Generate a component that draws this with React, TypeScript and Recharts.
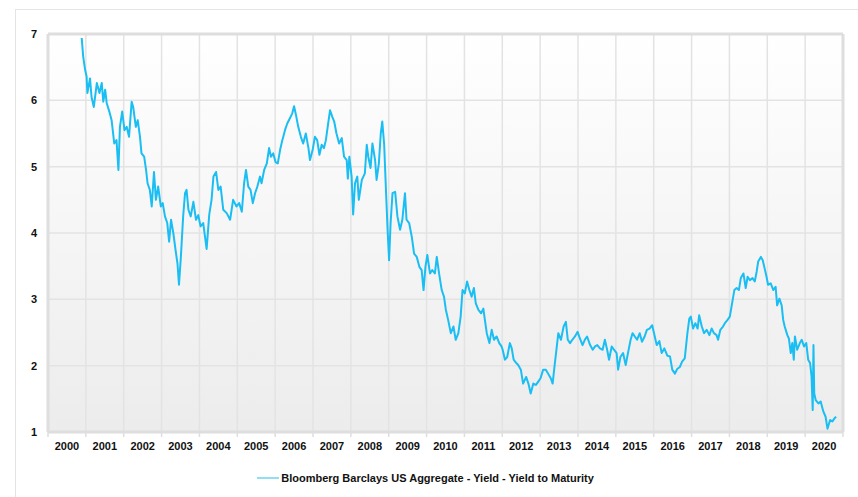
import React from "react";
import {
  LineChart,
  Line,
  XAxis,
  YAxis,
  CartesianGrid,
  Legend,
  ReferenceLine,
} from "recharts";

// decimal year of each reading
const dates = [
  2000.89, 2000.93, 2000.98, 2001.02, 2001.04, 2001.11, 2001.15, 2001.21, 2001.29, 2001.36,
  2001.42, 2001.46, 2001.51, 2001.55, 2001.62, 2001.68, 2001.75, 2001.81, 2001.86, 2001.9,
  2001.96, 2002.02, 2002.08, 2002.14, 2002.21, 2002.25, 2002.32, 2002.37, 2002.43, 2002.47,
  2002.54, 2002.59, 2002.63, 2002.69, 2002.74, 2002.8, 2002.85, 2002.91, 2002.98, 2003.03,
  2003.09, 2003.15, 2003.2, 2003.25, 2003.31, 2003.37, 2003.42, 2003.46, 2003.51, 2003.57,
  2003.62, 2003.66, 2003.71, 2003.77, 2003.84, 2003.91, 2003.97, 2004.03, 2004.1, 2004.19,
  2004.26, 2004.32, 2004.37, 2004.44, 2004.5, 2004.56, 2004.63, 2004.72, 2004.81, 2004.89,
  2004.98, 2005.05, 2005.12, 2005.18, 2005.23, 2005.29, 2005.35, 2005.41, 2005.47, 2005.53,
  2005.6, 2005.64, 2005.71, 2005.78, 2005.84, 2005.89, 2005.95, 2006.01, 2006.07, 2006.13,
  2006.19, 2006.26, 2006.32, 2006.39, 2006.45, 2006.5, 2006.55, 2006.61, 2006.68, 2006.74,
  2006.81, 2006.88, 2006.92, 2006.99, 2007.05, 2007.11, 2007.17, 2007.23, 2007.29, 2007.34,
  2007.4, 2007.45, 2007.51, 2007.56, 2007.62, 2007.69, 2007.76, 2007.82, 2007.89, 2007.92,
  2007.96, 2008.02, 2008.06, 2008.11, 2008.17, 2008.21, 2008.29, 2008.37, 2008.42, 2008.46,
  2008.52, 2008.57, 2008.64, 2008.68, 2008.74, 2008.79, 2008.83, 2008.88, 2008.92, 2008.97,
  2009.01, 2009.05, 2009.1, 2009.17, 2009.23, 2009.3, 2009.36, 2009.43, 2009.47, 2009.54,
  2009.61, 2009.67, 2009.74, 2009.81, 2009.87, 2009.92, 2009.97, 2010.02, 2010.09, 2010.15,
  2010.22, 2010.27, 2010.33, 2010.4, 2010.46, 2010.51, 2010.57, 2010.64, 2010.71, 2010.77,
  2010.84, 2010.9, 2010.95, 2011.01, 2011.07, 2011.13, 2011.19, 2011.25, 2011.3, 2011.37,
  2011.44, 2011.5, 2011.54, 2011.59, 2011.66, 2011.72, 2011.78, 2011.85, 2011.92, 2011.98,
  2012.01, 2012.07, 2012.13, 2012.2, 2012.25, 2012.3, 2012.37, 2012.42, 2012.49, 2012.55,
  2012.63, 2012.69, 2012.75, 2012.82, 2012.89, 2012.95, 2013.01, 2013.08, 2013.15, 2013.21,
  2013.28, 2013.33, 2013.37, 2013.42, 2013.48, 2013.55, 2013.62, 2013.68, 2013.73, 2013.79,
  2013.85, 2013.92, 2013.99, 2014.05, 2014.12, 2014.18, 2014.24, 2014.32, 2014.39, 2014.45,
  2014.51, 2014.58, 2014.65, 2014.71, 2014.77, 2014.82, 2014.89, 2014.95, 2015.02, 2015.06,
  2015.12, 2015.19, 2015.26, 2015.32, 2015.39, 2015.44, 2015.5, 2015.56, 2015.63, 2015.69,
  2015.76, 2015.82, 2015.89, 2015.96, 2016.02, 2016.08, 2016.15, 2016.21, 2016.28, 2016.36,
  2016.43, 2016.49, 2016.56, 2016.62, 2016.69, 2016.75, 2016.82, 2016.89, 2016.94, 2016.98,
  2017.04, 2017.1, 2017.16, 2017.2, 2017.27, 2017.33, 2017.4, 2017.47, 2017.53, 2017.59,
  2017.66, 2017.7, 2017.76, 2017.83, 2017.88, 2017.95, 2018.01, 2018.07, 2018.13, 2018.19,
  2018.25, 2018.3, 2018.37, 2018.43, 2018.48, 2018.54, 2018.61, 2018.67, 2018.72, 2018.76,
  2018.83, 2018.88, 2018.94, 2018.98, 2019.02, 2019.09, 2019.16, 2019.22, 2019.26, 2019.32,
  2019.38, 2019.42, 2019.46, 2019.53, 2019.57, 2019.62, 2019.66, 2019.7, 2019.73, 2019.79,
  2019.86, 2019.91, 2019.97, 2020.03, 2020.08, 2020.13, 2020.17, 2020.2, 2020.22, 2020.24,
  2020.28, 2020.35, 2020.41, 2020.48, 2020.54, 2020.59, 2020.66, 2020.72, 2020.78, 2020.82,
];

// yield to maturity, %
const yields = [
  6.94, 6.66, 6.46, 6.36, 6.11, 6.33, 6.05, 5.9, 6.26, 6.11,
  6.26, 5.98, 6.16, 5.96, 5.83, 5.7, 5.35, 5.4, 4.95, 5.6,
  5.83, 5.55, 5.6, 5.45, 5.98, 5.9, 5.6, 5.7, 5.45, 5.2,
  5.15, 4.95, 4.75, 4.65, 4.4, 4.92, 4.5, 4.7, 4.4, 4.45,
  4.25, 4.15, 3.87, 4.2, 4.0, 3.74, 3.54, 3.22, 3.64, 4.25,
  4.6, 4.65, 4.35, 4.25, 4.47, 4.2, 4.27, 4.1, 4.15, 3.76,
  4.28, 4.5, 4.85, 4.92, 4.65, 4.7, 4.35, 4.3, 4.2, 4.5,
  4.4, 4.45, 4.32, 4.75, 4.95, 4.7, 4.65, 4.45, 4.6, 4.7,
  4.85, 4.75, 4.95, 5.05, 5.28, 5.15, 5.2, 5.07, 5.05, 5.25,
  5.4, 5.55, 5.65, 5.73, 5.8, 5.91, 5.78, 5.6, 5.45, 5.35,
  5.5, 5.28, 5.1, 5.25, 5.45, 5.4, 5.18, 5.33, 5.28, 5.4,
  5.65, 5.85, 5.75, 5.68, 5.5, 5.35, 5.43, 5.15, 5.1, 4.82,
  5.15, 4.85, 4.28, 4.75, 4.85, 4.5, 4.8, 4.9, 5.33, 5.15,
  4.98, 5.35, 5.1, 4.8, 5.05, 5.5, 5.68, 5.33, 4.75, 4.05,
  3.59, 4.15, 4.6, 4.62, 4.25, 4.05, 4.2, 4.6, 4.2, 4.15,
  3.94, 3.69, 3.64, 3.49, 3.44, 3.14, 3.49, 3.67, 3.39, 3.44,
  3.39, 3.64, 3.39, 3.14, 3.04, 2.84, 2.69, 2.49, 2.59, 2.39,
  2.49, 2.74, 3.14, 3.09, 3.27, 3.14, 3.04, 3.17, 2.94, 2.84,
  2.79, 2.86, 2.69, 2.49, 2.34, 2.54, 2.39, 2.44, 2.34, 2.29,
  2.24, 2.09, 2.13, 2.34, 2.26, 2.09, 2.04, 2.01, 1.94, 1.73,
  1.83, 1.73, 1.58, 1.73, 1.71, 1.76, 1.81, 1.94, 1.94, 1.88,
  1.81, 1.73, 1.94, 2.19, 2.49, 2.39, 2.59, 2.66, 2.39, 2.34,
  2.39, 2.44, 2.51, 2.41, 2.31, 2.39, 2.44, 2.31, 2.24, 2.29,
  2.31, 2.26, 2.24, 2.39, 2.24, 2.09, 2.29, 2.24, 2.19, 1.94,
  2.13, 2.19, 2.01, 2.19, 2.39, 2.49, 2.44, 2.39, 2.49, 2.36,
  2.44, 2.54, 2.56, 2.61, 2.46, 2.31, 2.37, 2.19, 2.26, 2.15,
  2.14, 1.94, 1.88, 1.95, 1.98, 2.06, 2.11, 2.49, 2.71, 2.74,
  2.56, 2.64, 2.56, 2.76, 2.59, 2.49, 2.54, 2.46, 2.56, 2.49,
  2.46, 2.39, 2.54, 2.59, 2.64, 2.69, 2.74, 2.94, 3.14, 3.17,
  3.14, 3.32, 3.39, 3.17, 3.34, 3.29, 3.32, 3.27, 3.42, 3.57,
  3.64, 3.59, 3.44, 3.34, 3.22, 3.24, 3.14, 3.19, 2.91, 3.01,
  2.91, 2.69, 2.59, 2.46, 2.41, 2.19, 2.34, 2.09, 2.44, 2.24,
  2.34, 2.39, 2.29, 2.34, 2.09, 2.04, 1.83, 1.33, 2.31, 1.58,
  1.48, 1.43, 1.46, 1.31, 1.23, 1.05, 1.18, 1.16, 1.21, 1.23,
];

const yearTicks = [
  2000, 2001, 2002, 2003, 2004, 2005, 2006, 2007, 2008, 2009, 2010,
  2011, 2012, 2013, 2014, 2015, 2016, 2017, 2018, 2019, 2020, 2021,
];
const yTicks = [1, 2, 3, 4, 5, 6, 7];
const seriesName = "Bloomberg Barclays US Aggregate - Yield - Yield to Maturity";

const data = dates.map((t, i) => ({ t, y: yields[i] }));

const W = 858;
const H = 497;
const margin = { top: 34, right: 15, left: 8, bottom: 10 };
const yAxisWidth = 40;
// half of one year band in pixels, labels sit in the middle of each year
const halfYear = (W - margin.left - margin.right - yAxisWidth) / (yearTicks.length - 1) / 2;

const FONT = '"Liberation Sans", Arial, sans-serif';
const LINE_COLOR = "#1abef3";
const BORDER = "#dedede";

const YearTick = (props: any) => {
  const { x, y, payload } = props;
  if (payload.value === yearTicks[0]) return <g />;
  return (
    <text
      x={x - halfYear}
      y={y}
      dy="0.71em"
      textAnchor="middle"
      fontSize={11}
      fontWeight="bold"
      fontFamily={FONT}
      fill="#111"
    >
      {payload.value - 1}
    </text>
  );
};

const LegendContent = (props: any) => {
  const { payload } = props;
  return (
    <div style={{ textAlign: "center", lineHeight: "20px" }}>
      {(payload || []).map((entry: any) => (
        <span key={entry.value} style={{ display: "inline-block" }}>
          <svg width={22} height={10} style={{ marginRight: 2, verticalAlign: "middle" }}>
            <line x1={0} y1={5} x2={22} y2={5} stroke="#6fd3f5" strokeWidth={1.5} />
          </svg>
          <span
            style={{
              fontFamily: FONT,
              fontSize: 11,
              fontWeight: "bold",
              color: "#111",
              verticalAlign: "middle",
            }}
          >
            {entry.value}
          </span>
        </span>
      ))}
    </div>
  );
};

export default function App() {
  return (
    <div
      style={{
        position: "fixed",
        left: 0,
        top: 0,
        width: W,
        height: H,
        overflow: "hidden",
        background: "#fff",
      }}
    >
      <div
        style={{
          position: "absolute",
          left: 15,
          top: 9,
          width: 900,
          height: 600,
          border: "1px solid #e4e4e4",
        }}
      />
      <div style={{ position: "absolute", left: 0, top: 0 }}>
        <LineChart width={W} height={H} data={data} margin={margin}>
          <defs>
            <linearGradient id="plotBg" x1="0" y1="0" x2="0" y2="1">
              <stop offset="0%" stopColor="#ffffff" />
              <stop offset="100%" stopColor="#ececec" />
            </linearGradient>
          </defs>
          <CartesianGrid
            stroke="#e3e3e3"
            strokeWidth={1.5}
            fill="url(#plotBg)"
            fillOpacity={1}
          />
          <XAxis
            dataKey="t"
            type="number"
            domain={[yearTicks[0], yearTicks[yearTicks.length - 1]]}
            ticks={yearTicks}
            interval={0}
            height={35}
            tickSize={5}
            tickMargin={5}
            tickLine={{ stroke: BORDER, strokeWidth: 1.5 }}
            axisLine={false}
            tick={YearTick}
          />
          <YAxis
            type="number"
            domain={[1, 7]}
            ticks={yTicks}
            interval={0}
            width={yAxisWidth}
            axisLine={false}
            tickLine={false}
            tickSize={6}
            tickMargin={5}
            tick={{ fontSize: 11, fontWeight: "bold", fill: "#111", fontFamily: FONT }}
          />
          <ReferenceLine y={7} stroke={BORDER} strokeWidth={3} />
          <ReferenceLine y={1} stroke={BORDER} strokeWidth={3} />
          <ReferenceLine x={yearTicks[0]} stroke={BORDER} strokeWidth={3} />
          <ReferenceLine x={yearTicks[yearTicks.length - 1]} stroke={BORDER} strokeWidth={3} />
          <Line
            type="linear"
            dataKey="y"
            name={seriesName}
            stroke={LINE_COLOR}
            strokeWidth={2}
            strokeLinejoin="round"
            dot={false}
            activeDot={false}
            isAnimationActive={false}
          />
          <Legend
            verticalAlign="bottom"
            align="center"
            wrapperStyle={{ height: 20 }}
            content={LegendContent}
          />
        </LineChart>
      </div>
    </div>
  );
}
